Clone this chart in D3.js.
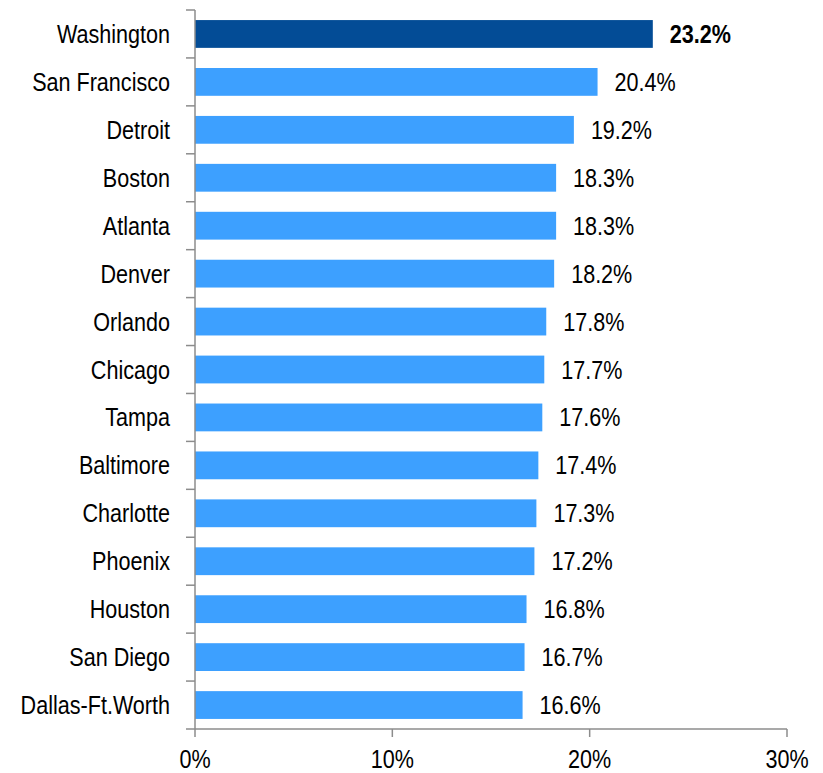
<!DOCTYPE html>
<html>
<head>
<meta charset="utf-8">
<script src="https://cdn.jsdelivr.net/npm/d3@7"></script>
<style>
body{margin:0;background:#fff;}
text{font-family:"Liberation Sans",Arial,sans-serif;}
</style>
</head>
<body>
<script>
// data
var cities=["Washington","San Francisco","Detroit","Boston","Atlanta","Denver","Orlando","Chicago","Tampa","Baltimore","Charlotte","Phoenix","Houston","San Diego","Dallas-Ft.Worth"];
var shares=[23.2,20.4,19.2,18.3,18.3,18.2,17.8,17.7,17.6,17.4,17.3,17.2,16.8,16.7,16.6];
var xTicks=[0,10,20,30];

var W=823,H=773;
var mLeft=195,mRight=787,mTop=10,mBottom=729;
var fs=26, narrow=0.83; // narrow font look (Arial Narrow)

var svg=d3.select("body").append("svg").attr("width",W).attr("height",H);

var x=d3.scaleLinear().domain([0,30]).range([mLeft,mRight]);
var y=d3.scaleBand().domain(cities).range([mTop,mBottom]).paddingInner(0.42).paddingOuter(0.21);

var data=cities.map(function(c,i){return {city:c,val:shares[i]};});

function place(tx,ty){return "translate("+tx+","+ty+") scale("+narrow+",1)";}

// bars
svg.selectAll("rect.bar").data(data).enter().append("rect")
  .attr("class","bar")
  .attr("x",x(0))
  .attr("y",function(d){return y(d.city);})
  .attr("width",function(d){return x(d.val)-x(0);})
  .attr("height",y.bandwidth())
  .attr("fill",function(d,i){return i==0?"#034C96":"#3DA0FF";});

// value labels
svg.selectAll("text.val").data(data).enter().append("text")
  .attr("class","val")
  .attr("transform",function(d){return place(x(d.val)+17,y(d.city)+y.bandwidth()/2+9);})
  .attr("font-size",fs)
  .attr("font-weight",function(d,i){return i==0?"bold":"normal";})
  .attr("fill","#000")
  .text(function(d){return d.val.toFixed(1)+"%";});

// y axis
var axisColor="#8c8c8c";
svg.append("line").attr("x1",mLeft).attr("x2",mLeft).attr("y1",mTop).attr("y2",mBottom)
  .attr("stroke",axisColor).attr("stroke-width",1.5);
var bounds=d3.range(cities.length+1).map(function(i){return mTop+i*(mBottom-mTop)/cities.length;});
svg.selectAll("line.ytick").data(bounds).enter().append("line")
  .attr("x1",mLeft-9).attr("x2",mLeft)
  .attr("y1",function(d){return d;}).attr("y2",function(d){return d;})
  .attr("stroke",axisColor).attr("stroke-width",1.5);

svg.selectAll("text.cat").data(cities).enter().append("text")
  .attr("class","cat")
  .attr("transform",function(d){return place(170,y(d)+y.bandwidth()/2+9);})
  .attr("text-anchor","end")
  .attr("font-size",fs)
  .attr("fill","#000")
  .text(function(d){return d;});

// x axis
svg.append("line").attr("x1",mLeft).attr("x2",mRight).attr("y1",mBottom).attr("y2",mBottom)
  .attr("stroke",axisColor).attr("stroke-width",1.5);
svg.selectAll("line.xtick").data(xTicks).enter().append("line")
  .attr("x1",function(d){return x(d);}).attr("x2",function(d){return x(d);})
  .attr("y1",mBottom).attr("y2",mBottom+8)
  .attr("stroke",axisColor).attr("stroke-width",1.5);
svg.selectAll("text.xt").data(xTicks).enter().append("text")
  .attr("class","xt")
  .attr("transform",function(d){return place(x(d),768);})
  .attr("text-anchor","middle")
  .attr("font-size",fs)
  .attr("fill","#000")
  .text(function(d){return d+"%";});
</script>
</body>
</html>
